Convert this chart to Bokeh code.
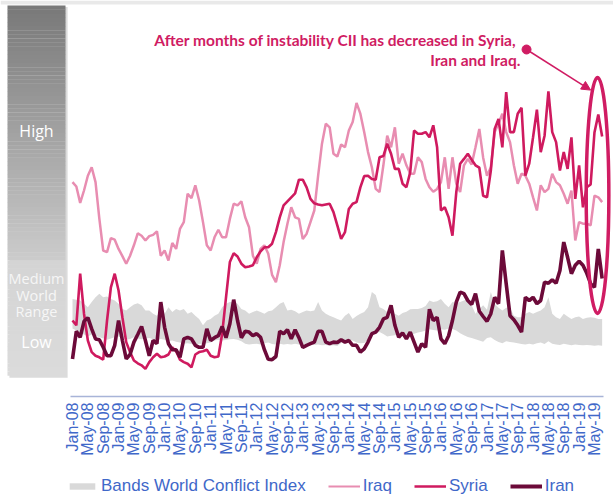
import math
from bokeh.plotting import figure
from bokeh.layouts import column
from bokeh.models import (Range1d, FixedTicker, Legend, LegendItem, Arrow, NormalHead,
                          ColumnDataSource)
from bokeh.core.properties import value
from bokeh.embed import file_html
from bokeh.resources import INLINE

# ---------------- data (monthly index, Jan-08 = 0 ... Jul-19 = 138) ----------------
months = list(range(139))

iraq = [53.6, 52.5, 48.4, 51.5, 55.2, 57.3, 53.6, 44.4, 36.5, 36.1,
        39.6, 39.2, 36.9, 35.1, 33.2, 35.2, 37.8, 40.8, 40.2, 39.0,
        40.1, 40.4, 41.3, 35.2, 36.5, 34.0, 38.4, 36.9, 41.9, 43.6,
        50.7, 49.6, 52.8, 49.0, 43.6, 37.8, 36.5, 39.8, 41.7, 39.8,
        39.8, 44.4, 48.2, 47.8, 48.8, 44.8, 42.3, 35.2, 33.2, 36.9,
        37.8, 35.7, 30.4, 28.6, 32.8, 38.6, 43.2, 47.3, 44.8, 44.4,
        39.4, 40.7, 43.6, 46.5, 55.2, 63.2, 68.2, 67.3, 60.7, 60.0,
        63.0, 62.3, 66.5, 68.6, 73.4, 70.7, 66.1, 61.1, 57.3, 51.9,
        51.1, 57.8, 65.2, 62.3, 67.3, 58.2, 60.7, 57.8, 55.7, 55.7,
        59.8, 58.6, 54.4, 52.3, 51.2, 51.9, 53.6, 59.8, 51.9, 59.8,
        53.2, 51.1, 57.8, 59.4, 58.0, 62.3, 66.9, 59.7, 55.2, 57.3,
        66.1, 68.2, 70.7, 66.1, 63.6, 57.8, 53.2, 55.7, 55.2, 53.2,
        49.8, 46.5, 52.8, 51.1, 51.9, 55.7, 53.6, 52.8, 50.7, 48.2,
        51.5, 39.0, 43.6, 43.2, 43.2, 42.8, 50.2, 49.8, 48.6]

syria = [19.0, 17.8, 30.7, 20.7, 14.0, 11.1, 10.2, 9.8, 9.2, 19.0,
         27.3, 30.7, 26.5, 19.8, 13.6, 11.1, 9.0, 8.3, 7.8, 6.9,
         8.6, 9.8, 10.7, 9.8, 10.0, 10.5, 12.3, 11.3, 9.2, 8.6,
         8.2, 7.3, 10.5, 11.1, 11.3, 11.7, 10.2, 9.8, 10.0, 15.7,
         24.8, 33.6, 35.8, 35.0, 33.2, 32.3, 32.5, 32.8, 34.8, 36.3,
         37.3, 37.3, 38.2, 41.1, 44.8, 47.8, 48.8, 49.8, 50.8, 54.2,
         54.2, 52.3, 49.4, 48.3, 48.0, 47.8, 48.0, 48.2, 46.1, 42.8,
         39.4, 41.1, 46.9, 48.2, 48.6, 52.3, 55.1, 55.2, 54.4, 54.2,
         59.8, 60.1, 63.2, 60.7, 56.9, 56.9, 53.2, 52.3, 56.1, 66.5,
         65.7, 65.7, 66.1, 64.8, 67.8, 62.3, 46.5, 47.3, 44.8, 40.2,
         51.1, 58.2, 59.4, 60.7, 59.2, 57.8, 57.2, 50.2, 49.8, 56.5,
         66.9, 69.4, 62.3, 76.1, 66.1, 66.1, 70.7, 72.2, 55.2, 58.2,
         64.8, 71.7, 61.1, 65.2, 76.3, 66.1, 63.6, 56.5, 61.1, 56.9,
         64.8, 49.4, 57.8, 47.3, 52.3, 53.0, 66.0, 70.5, 65.0]

iran = [9.4, 16.3, 14.8, 18.8, 19.7, 16.9, 14.4, 14.2, 12.3, 10.2,
        10.2, 12.8, 19.0, 14.0, 9.4, 10.5, 13.6, 15.5, 17.5, 14.0,
        10.2, 14.0, 13.2, 23.6, 17.3, 13.2, 11.7, 11.7, 9.8, 14.4,
        14.8, 14.4, 12.8, 12.3, 12.3, 16.9, 14.0, 14.7, 15.2, 17.5,
        14.7, 18.2, 24.2, 19.0, 14.7, 16.3, 16.1, 15.2, 15.7, 14.8,
        11.7, 9.3, 9.2, 10.0, 16.3, 15.7, 16.7, 14.4, 16.7, 14.7,
        12.3, 12.8, 13.2, 13.6, 16.3, 16.3, 13.6, 13.2, 13.6, 13.5,
        14.2, 13.6, 14.0, 12.8, 12.8, 11.1, 11.9, 13.6, 15.7, 16.1,
        17.3, 19.4, 19.8, 22.8, 17.8, 14.8, 15.9, 14.4, 16.1, 13.6,
        11.1, 13.2, 12.3, 21.8, 19.0, 19.8, 14.4, 13.2, 15.2, 19.0,
        23.6, 26.1, 25.7, 24.0, 23.0, 25.7, 21.3, 20.0, 18.8, 20.7,
        24.8, 23.2, 36.5, 28.2, 20.2, 19.2, 17.8, 16.1, 24.8, 24.0,
        24.8, 23.2, 24.0, 28.6, 28.3, 29.2, 28.3, 31.5, 38.6, 34.8,
        30.7, 32.8, 33.8, 32.8, 30.8, 28.2, 27.3, 36.9, 29.5]

band_high = [24.4, 24.2, 24.0, 23.2, 22.3, 23.6, 24.8, 25.7, 24.8, 25.0,
             24.4, 24.0, 23.2, 21.9, 21.5, 22.3, 23.0, 23.3, 22.8, 21.5,
             21.5, 20.7, 20.2, 21.5, 20.7, 22.3, 21.1, 21.9, 21.5, 21.9,
             20.7, 21.1, 20.2, 19.4, 17.8, 19.0, 19.4, 20.2, 20.7, 22.3,
             23.2, 23.6, 23.6, 23.2, 21.9, 21.5, 20.7, 21.1, 21.5, 21.1,
             20.7, 21.3, 21.5, 22.3, 23.2, 23.6, 21.5, 21.7, 21.3, 20.7,
             21.1, 21.5, 21.3, 21.5, 23.6, 21.5, 20.7, 20.2, 19.8, 19.4,
             19.0, 20.2, 20.9, 19.4, 20.1, 20.7, 21.1, 22.3, 26.1, 25.4,
             22.3, 21.9, 21.1, 21.1, 20.7, 20.2, 20.9, 21.2, 21.8, 21.9,
             21.9, 22.1, 22.6, 24.0, 23.6, 23.8, 24.4, 23.2, 22.3, 23.6,
             23.4, 23.6, 24.0, 24.4, 22.8, 20.7, 21.9, 22.8, 21.7, 26.1,
             23.2, 22.2, 21.5, 22.2, 22.2, 20.2, 19.8, 19.8, 20.7, 21.1,
             20.7, 21.1, 21.5, 22.3, 24.8, 20.7, 19.8, 19.4, 20.7, 20.0,
             19.4, 19.8, 20.0, 19.4, 19.7, 19.8, 19.7, 19.4, 19.4]

band_low = [17.0, 16.5, 16.0, 15.5, 15.0, 15.5, 15.2, 14.8, 14.5, 14.2,
            14.5, 14.8, 15.0, 14.6, 14.2, 14.4, 14.8, 14.5, 14.3, 14.5,
            14.6, 14.3, 14.1, 14.4, 14.2, 13.9, 14.0, 13.7, 13.5, 13.2,
            13.3, 13.1, 13.0, 13.2, 13.1, 13.3, 13.5, 14.0, 14.2, 14.0,
            14.1, 14.3, 14.4, 14.2, 13.8, 13.2, 13.0, 13.1, 13.2, 13.0,
            13.3, 13.5, 13.1, 13.0, 13.2, 13.0, 13.1, 13.0, 13.2, 13.0,
            13.1, 13.2, 13.0, 12.9, 13.0, 12.8, 12.9, 12.7, 12.8, 12.6,
            13.4, 13.8, 14.1, 14.0, 13.5, 13.3, 13.4, 14.2, 15.4, 15.8,
            16.1, 15.6, 15.0, 15.2, 15.3, 15.5, 15.6, 15.5, 15.4, 15.7,
            16.0, 16.2, 16.5, 16.8, 16.6, 16.5, 16.8, 16.7, 17.0, 16.9,
            16.5, 15.8, 15.3, 14.9, 14.6, 14.3, 14.0, 13.7, 14.6, 14.8,
            14.1, 13.6, 13.3, 13.8, 13.6, 13.5, 13.3, 13.1, 13.0, 13.2,
            13.0, 13.3, 13.5, 13.1, 13.8, 13.2, 13.0, 12.9, 13.2, 13.0,
            12.8, 13.0, 12.9, 12.8, 12.9, 12.8, 12.7, 12.8, 12.7]

month_names = ["Jan", "May", "Sep"]
tick_months = list(range(0, 137, 4))
tick_labels = [f"{mn}-{yy:02d}" for yy in range(8, 20) for mn in month_names][:len(tick_months)]

series_names = ["Bands World Conflict Index", "Iraq", "Syria", "Iran"]
scale_labels = ["High", "Medium", "World", "Range", "Low"]
note_lines = ["After months of instability  CII has decreased in Syria,", "Iran and Iraq."]

# ---------------- styling ----------------
C_BAND = "#d9d9d9"
C_IRAQ = "#e88db1"
C_SYRIA = "#cf1a5f"
C_IRAN = "#6c0a39"
C_NOTE = "#d01c63"
C_BLUE = "#3f68c9"
FONT = "Liberation Sans"

X0, X1 = -18.76, 140.96
p = figure(width=613, height=476, output_backend="svg", toolbar_location=None,
           x_range=Range1d(X0, X1), y_range=Range1d(0, 99),
           y_axis_location=None, min_border_left=0, min_border_right=0,
           min_border_top=0, min_border_bottom=80, outline_line_color=None,
           background_fill_color="white", border_fill_color="white")
p.xgrid.visible = False
p.ygrid.visible = False

# thin grey strip along the top edge
p.quad(left=X0, right=X1, top=99, bottom=98.0, fill_color="#e9e9e9", line_color=None)

# ---------------- left scale bar (gradient) ----------------
bar_left, bar_right = -16.94, -1.82
bar_top, bar_bot = 97.75, 5.25
n_steps = 90
lefts, rights, tops, bots, cols = [], [], [], [], []
for i in range(n_steps):
    t0 = bar_top - (bar_top - bar_bot) * i / n_steps
    t1 = bar_top - (bar_top - bar_bot) * (i + 1) / n_steps
    f = i / (n_steps - 1)
    ypix = 5 + f * 370
    if ypix < 262:
        g = 121 + (204 - 121) * (ypix - 5) / 257
    else:
        g = 212 + (219 - 212) * (ypix - 262) / 113
    g = int(round(g))
    lefts.append(bar_left); rights.append(bar_right)
    tops.append(t0); bots.append(t1 - 0.05)
    cols.append(f"#{g:02x}{g:02x}{g:02x}")
# shadow
p.quad(left=bar_left + 0.5, right=bar_right + 0.55, top=bar_top - 0.4, bottom=bar_bot - 0.55,
       fill_color="#bdbdbd", fill_alpha=0.55, line_color=None)
p.quad(left=lefts, right=rights, top=tops, bottom=bots, fill_color=cols, line_color=None)

bar_cx = (bar_left + bar_right) / 2
p.text(x=[bar_cx], y=[66.5], text=[scale_labels[0]], text_color="white",
       text_font=value("Open Sans"), text_font_size="16px", text_align="center",
       text_baseline="middle")
p.text(x=[bar_cx] * 3, y=[29.5, 25.3, 21.3], text=scale_labels[1:4], text_color="#f6f6f6",
       text_font=value("Open Sans"), text_font_size="14.5px", text_align="center",
       text_baseline="middle")
p.text(x=[bar_cx], y=[13.75], text=[scale_labels[4]], text_color="white",
       text_font=value("Open Sans"), text_font_size="16px", text_align="center",
       text_baseline="middle")

# ---------------- series ----------------
src = ColumnDataSource(dict(m=months, iraq=iraq, syria=syria, iran=iran,
                            lo=band_low, hi=band_high))
p.varea(x="m", y1="lo", y2="hi", source=src, fill_color=C_BAND)
p.line("m", "iraq", source=src, line_color=C_IRAQ, line_width=2.5)
p.line("m", "syria", source=src, line_color=C_SYRIA, line_width=2.6)
p.line("m", "iran", source=src, line_color=C_IRAN, line_width=3.6)

# ---------------- annotation ----------------
p.ellipse(x=[136.8], y=[50.25], width=5.9, height=59, fill_color=None,
          line_color=C_NOTE, line_width=3.5)
p.add_layout(Arrow(end=NormalHead(size=9, fill_color=C_NOTE, line_color=C_NOTE),
                   x_start=118.3, y_start=86.75, x_end=135.0, y_end=76.6,
                   line_color=C_NOTE, line_width=1.5))
p.scatter(x=[118.3], y=[86.75], size=9, fill_color=C_NOTE, line_color=C_NOTE)
p.text(x=[116.7, 116.7], y=[89.25, 84.25], text=note_lines, text_color=C_NOTE,
       text_font=value("Lato"), text_font_style="bold", text_font_size="15.5px",
       text_align="right", text_baseline="middle")

# ---------------- axis ----------------
ax = p.xaxis[0]
ax.ticker = FixedTicker(ticks=tick_months)
ax.major_label_overrides = {m: lab for m, lab in zip(tick_months, tick_labels)}
ax.major_label_orientation = math.pi / 2
ax.major_label_text_font = FONT
ax.major_label_text_font_size = "16px"
ax.major_label_text_color = C_BLUE
ax.major_label_standoff = 6
ax.major_tick_out = 0
ax.major_tick_in = 0
ax.minor_tick_out = 0
ax.minor_tick_in = 0
ax.major_tick_line_color = None
ax.minor_tick_line_color = None
ax.axis_line_color = "#a8b4d8"
ax.axis_line_width = 1.5
ax.bounds = (-0.52, 138.4)

# ---------------- legend (separate strip below) ----------------
lf = figure(width=613, height=20, output_backend="svg", toolbar_location=None,
            x_range=Range1d(0, 1), y_range=Range1d(0, 1),
            x_axis_location=None, y_axis_location=None,
            min_border_left=0, min_border_right=0, min_border_top=0, min_border_bottom=0,
            outline_line_color=None, background_fill_color="white",
            border_fill_color="white")
lf.xgrid.visible = False
lf.ygrid.visible = False
off = ColumnDataSource(dict(x=[-5, -4], y=[-5, -5], y1=[-6, -6], y2=[-5, -5]))
g_band = lf.varea(x="x", y1="y1", y2="y2", source=off, fill_color=C_BAND)
g_iraq = lf.line("x", "y", source=off, line_color=C_IRAQ, line_width=2)
g_syria = lf.line("x", "y", source=off, line_color=C_SYRIA, line_width=2.5)
g_iran = lf.line("x", "y", source=off, line_color=C_IRAN, line_width=4)
legend = Legend(items=[LegendItem(label=series_names[0], renderers=[g_band]),
                       LegendItem(label=series_names[1], renderers=[g_iraq]),
                       LegendItem(label=series_names[2], renderers=[g_syria]),
                       LegendItem(label=series_names[3], renderers=[g_iran])],
                orientation="horizontal", location=(66, 0),
                label_text_font=FONT, label_text_font_size="17px",
                label_text_color=C_BLUE, glyph_width=32, glyph_height=8,
                label_height=20, label_standoff=3, spacing=22, padding=0, margin=0,
                border_line_color=None, background_fill_alpha=0)
lf.add_layout(legend)

layout = column(p, lf, spacing=0)
open("out.html", "w").write(file_html(layout, INLINE))
